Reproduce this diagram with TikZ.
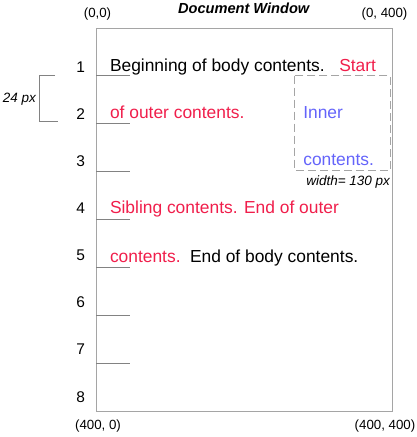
\documentclass[tikz,border=0pt]{standalone}
\usepackage{fontspec}
\setmainfont{Liberation Sans}
\definecolor{txtred}{RGB}{240,30,75}
\definecolor{txtblue}{RGB}{100,100,250}
\definecolor{frame}{RGB}{165,165,165}
\definecolor{tick}{RGB}{130,130,130}
\begin{document}
\begin{tikzpicture}[x=1pt,y=-1pt,
  every node/.style={inner sep=0pt,outer sep=0pt},
  body/.style={anchor=base west,font=\fontsize{17.4}{20}\selectfont},
  lbl/.style={font=\fontsize{13.3}{15}\selectfont},
  rownum/.style={anchor=base east,font=\fontsize{15.5}{17}\selectfont},
  note/.style={font=\itshape\fontsize{13.5}{15}\selectfont},
  tickline/.style={draw=tick,line width=0.9pt},
  framebox/.style={draw=frame,line width=0.9pt},
  innerbox/.style={draw=frame,line width=0.9pt,dash pattern=on 8pt off 4pt}]
\useasboundingbox (0,0) rectangle (417,437);
% window
\draw[framebox] (96,28) rectangle (392,411);
\node[font=\bfseries\itshape\fontsize{14.6}{16}\selectfont] (title) at (243.7,8) {Document Window};
\node[lbl] (tl) at (97.5,14) {(0,0)};
\node[lbl] (tr) at (384.5,14) {(0, 400)};
\node[lbl] (bl) at (98,426) {(400, 0)};
\node[lbl] (br) at (385,426) {(400, 400)};
% ticks and row numbers
\foreach \k in {1,...,7}{
  \draw[tickline] (96,{75.3+48*(\k-1)}) -- (130,{75.3+48*(\k-1)});
}
\foreach \n in {1,...,8}{
  \node[rownum] (r\n) at (85,{72+47.15*(\n-1)}) {\n};
}
% bracket
\draw[draw=tick,line width=0.9pt] (55,75.3) -- (39,75.3) -- (39,121) -- (58,121);
\node[note,anchor=east] (px) at (36,99) {24 px};
% inner box
\draw[innerbox] (294.3,75.5) rectangle (390.3,170);
\node[note,anchor=base east] (wd) at (390,185) {width= 130 px};
% contents
\node[body] (b1) at (110,71) {Beginning of body contents.};
\node[body,text=txtred] (s1) at (339.3,71) {Start};
\node[body,text=txtred] (o2) at (110,118.5) {of outer contents.};
\node[body,text=txtblue] (i2) at (303.3,118.5) {Inner};
\node[body,text=txtblue] (i3) at (303.3,165.5) {contents.};
\node[body,text=txtred] (s4) at (110,213.5) {Sibling contents. End of outer};
\node[body,text=txtred] (o5) at (110,262) {contents.};
\node[body] (e5) at (190,262) {End of body contents.};
\end{tikzpicture}
\end{document}
